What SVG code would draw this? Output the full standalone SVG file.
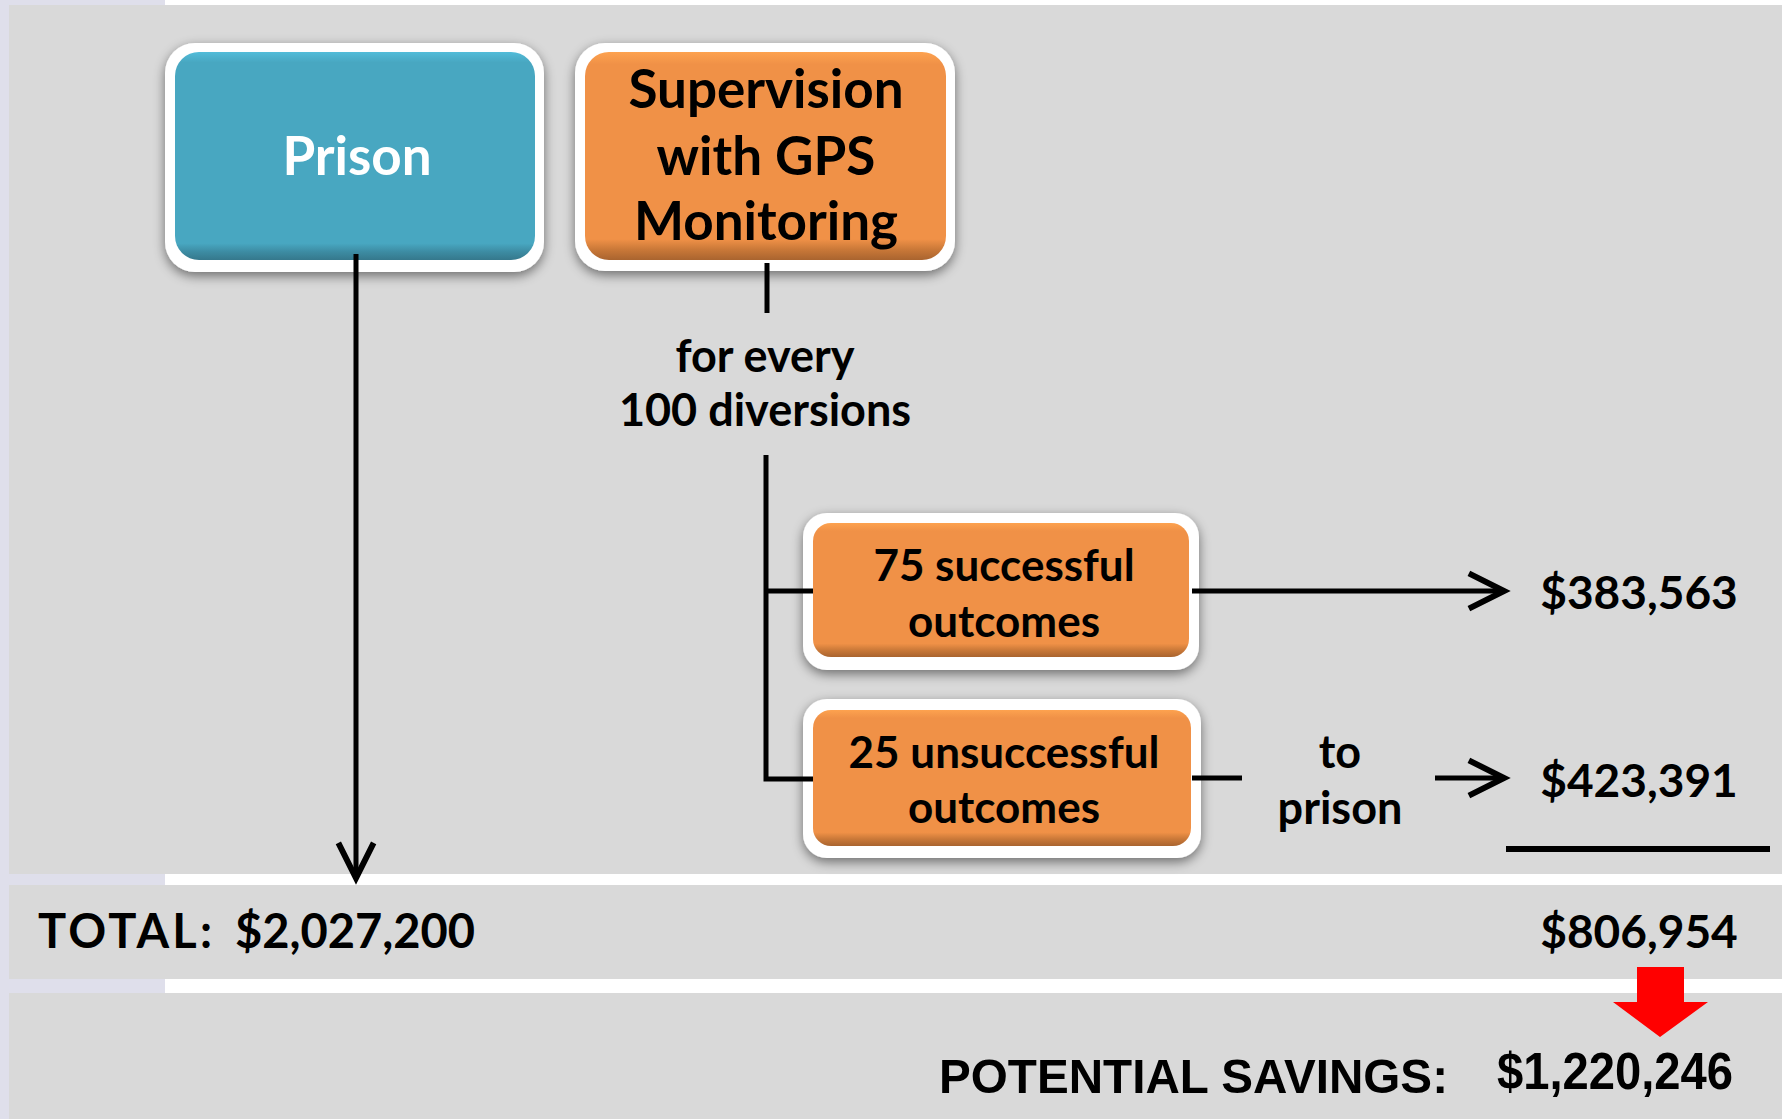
<svg xmlns="http://www.w3.org/2000/svg" width="1782" height="1119" viewBox="0 0 1782 1119">
<defs>
<style>
.lbl{font-family:Lato,"Liberation Sans",sans-serif;font-weight:700;fill:#000}
.ctr{text-anchor:middle}
.wire{stroke:#000;stroke-width:5;fill:none}
.frame{fill:#fff}
.cond{font-family:"Liberation Sans",Arial,sans-serif;font-weight:700;fill:#000}
</style>
<linearGradient id="gTeal" x1="0" y1="0" x2="0" y2="1">
<stop offset="0" stop-color="#52bcd9"/>
<stop offset="0.05" stop-color="#48a7c1"/>
<stop offset="0.92" stop-color="#48a7c1"/>
<stop offset="0.96" stop-color="#3d8ca3"/>
<stop offset="1" stop-color="#35788c"/>
</linearGradient>
<linearGradient id="gOrange" x1="0" y1="0" x2="0" y2="1">
<stop offset="0" stop-color="#fda24f"/>
<stop offset="0.06" stop-color="#f09147"/>
<stop offset="0.9" stop-color="#f09147"/>
<stop offset="0.95" stop-color="#c97838"/>
<stop offset="1" stop-color="#a9642f"/>
</linearGradient>
<filter id="sh" x="-10%" y="-15%" width="120%" height="135%">
<feGaussianBlur in="SourceAlpha" stdDeviation="6"/>
<feOffset dy="4"/>
<feComponentTransfer><feFuncA type="linear" slope="0.5"/></feComponentTransfer>
<feMerge><feMergeNode/><feMergeNode in="SourceGraphic"/></feMerge>
</filter>
<marker id="head" markerUnits="userSpaceOnUse" markerWidth="40" markerHeight="40" viewBox="0 0 34 34" refX="30" refY="17" orient="auto" overflow="visible">
<path d="M1,2 L31,17 L1,32" fill="none" stroke="#000" stroke-width="5"/>
</marker>
</defs>

<g id="background">
<rect x="0" y="0" width="1782" height="1119" fill="#dfdfeb"/>
<rect x="165" y="0" width="1617" height="5" fill="#fff"/>
<rect x="165" y="874" width="1617" height="11" fill="#fff"/>
<rect x="165" y="979" width="1617" height="14" fill="#fff"/>
<rect x="9" y="5" width="1773" height="869" fill="#d9d9d9"/>
<rect x="9" y="885" width="1773" height="94" fill="#d9d9d9"/>
<rect x="9" y="993" width="1773" height="126" fill="#d9d9d9"/>
</g>

<g id="node-prison">
<rect class="frame" x="165" y="43" width="379" height="229" rx="30" filter="url(#sh)"/>
<rect x="175" y="52" width="360" height="208" rx="24" fill="url(#gTeal)"/>
<text class="lbl ctr" x="357" y="175" font-size="53" style="fill:#fff">Prison</text>
</g>

<g id="node-supervision">
<rect class="frame" x="575" y="43" width="380" height="228" rx="30" filter="url(#sh)"/>
<rect x="585" y="52" width="361" height="208" rx="24" fill="url(#gOrange)"/>
<text class="lbl ctr" x="766" y="108" font-size="53">Supervision</text>
<text class="lbl ctr" x="766" y="175" font-size="53">with GPS</text>
<text class="lbl ctr" x="766" y="240" font-size="53">Monitoring</text>
</g>

<g id="label-diversions">
<text class="lbl ctr" x="765" y="372" font-size="45">for every</text>
<text class="lbl ctr" x="765" y="426" font-size="45">100 diversions</text>
</g>

<g id="node-successful">
<rect class="frame" x="803" y="513" width="396" height="157" rx="24" filter="url(#sh)"/>
<rect x="813" y="523" width="376" height="134" rx="18" fill="url(#gOrange)"/>
<text class="lbl ctr" x="1004" y="581" font-size="44">75 successful</text>
<text class="lbl ctr" x="1004" y="637" font-size="44">outcomes</text>
</g>

<g id="node-unsuccessful">
<rect class="frame" x="803" y="699" width="398" height="159" rx="24" filter="url(#sh)"/>
<rect x="813" y="710" width="378" height="136" rx="18" fill="url(#gOrange)"/>
<text class="lbl ctr" x="1004" y="768" font-size="44">25 unsuccessful</text>
<text class="lbl ctr" x="1004" y="823" font-size="44">outcomes</text>
</g>

<g id="label-to-prison">
<text class="lbl ctr" x="1340" y="768" font-size="45">to</text>
<text class="lbl ctr" x="1340" y="824" font-size="45">prison</text>
</g>

<g id="amounts">
<text class="lbl ctr" x="1639" y="609" font-size="46">$383,563</text>
<text class="lbl ctr" x="1639" y="797" font-size="46">$423,391</text>
<text class="lbl ctr" x="1639" y="948" font-size="46">$806,954</text>
<text class="lbl" x="38" y="948" font-size="47" textLength="174">TOTAL:</text>
<text class="lbl" x="235" y="948" font-size="47">$2,027,200</text>
</g>

<g id="savings">
<text class="cond" x="939" y="1093" font-size="49" textLength="509" lengthAdjust="spacingAndGlyphs">POTENTIAL SAVINGS:</text>
<text class="cond" x="1497" y="1089" font-size="52" textLength="236" lengthAdjust="spacingAndGlyphs">$1,220,246</text>
</g>

<g id="connectors">
<line class="wire" x1="356" y1="254" x2="356" y2="877" marker-end="url(#head)"/>
<line class="wire" x1="767" y1="263" x2="767" y2="313"/>
<path class="wire" d="M766,455 V779 H813"/>
<line class="wire" x1="766" y1="591" x2="813" y2="591"/>
<line class="wire" x1="1192" y1="591" x2="1503" y2="591" marker-end="url(#head)"/>
<line class="wire" x1="1192" y1="778" x2="1242" y2="778"/>
<line class="wire" x1="1435" y1="778" x2="1503" y2="778" marker-end="url(#head)"/>
<line x1="1506" y1="849" x2="1770" y2="849" stroke="#000" stroke-width="6"/>
<polygon id="red-arrow" points="1637,967 1684,967 1684,1002 1708,1002 1660,1037 1613,1002 1637,1002" fill="#ff0000"/>
</g>
</svg>
